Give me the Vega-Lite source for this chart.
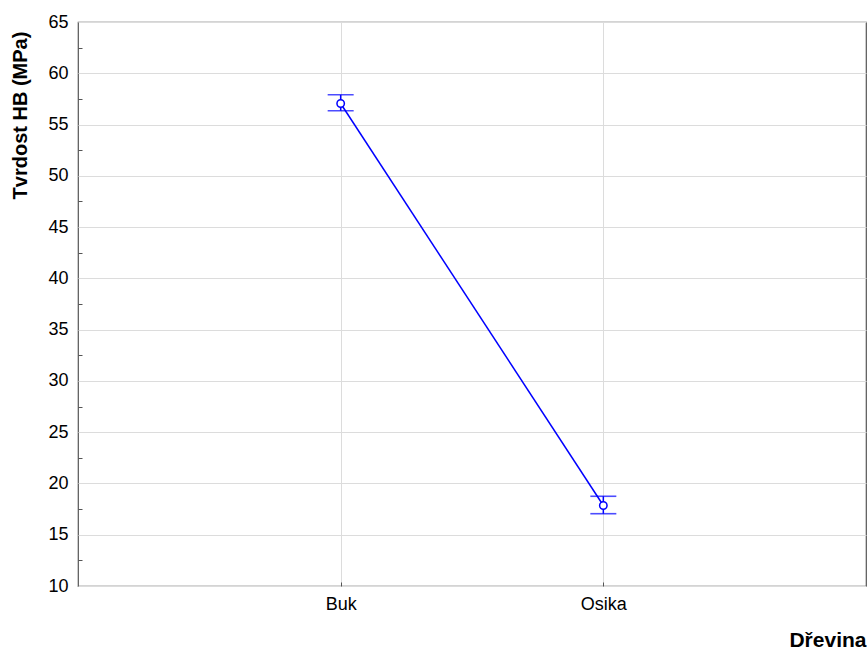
{
  "$schema": "https://vega.github.io/schema/vega-lite/v6.json",
  "width": 788,
  "height": 564,
  "autosize": {"type": "none"},
  "padding": {"left": 78, "top": 22, "right": 1, "bottom": 65},
  "background": "white",
  "config": {
    "font": "Liberation Sans",
    "view": {"stroke": "#555555", "strokeWidth": 1.2},
    "axis": {"gridColor": "#dcdcdc", "gridWidth": 1, "domain": false}
  },
  "data": {
    "values": [
      {"Drevina": "Buk", "prumer": 57.05, "dolni": 56.35, "horni": 57.9},
      {"Drevina": "Osika", "prumer": 17.85, "dolni": 17.05, "horni": 18.75}
    ]
  },
  "encoding": {
    "x": {
      "field": "Drevina",
      "type": "nominal",
      "sort": null,
      "scale": {"type": "point", "padding": 1},
      "axis": {
        "title": "Dřevina",
        "titleFontSize": 21,
        "titleFontWeight": "bold",
        "titleColor": "black",
        "titleAnchor": "end",
        "titleAlign": "right",
        "titleX": 788,
        "titleY": 54,
        "titleBaseline": "middle",
        "labelFontSize": 18,
        "labelColor": "black",
        "labelAngle": 0,
        "labelPadding": 13,
        "tickSize": -4,
        "tickColor": "#555555",
        "grid": true
      }
    }
  },
  "layer": [
    {
      "mark": {"type": "line", "color": "#0000ff", "strokeWidth": 1.5},
      "encoding": {
        "y": {
          "field": "prumer",
          "type": "quantitative",
          "scale": {"domain": [10, 65], "nice": false, "zero": false},
          "axis": {
            "title": "Tvrdost HB (MPa)",
            "titleFontSize": 20,
            "titleFontWeight": "bold",
            "titleColor": "black",
            "titleAngle": 270,
            "titleAlign": "center",
            "titleBaseline": "middle",
            "titleX": -58,
            "titleY": 93,
            "values": [10, 15, 20, 25, 30, 35, 40, 45, 50, 55, 60, 65],
            "labelFontSize": 18,
            "labelColor": "black",
            "labelPadding": 10,
            "ticks": false,
            "grid": true
          }
        }
      }
    },
    {
      "mark": {"type": "rule", "color": "#0000ff", "strokeWidth": 1.5},
      "encoding": {
        "y": {
          "field": "dolni",
          "type": "quantitative",
          "axis": {
            "orient": "left",
            "title": null,
            "labels": false,
            "grid": false,
            "ticks": true,
            "tickSize": -4,
            "tickColor": "#555555",
            "values": [12.5, 17.5, 22.5, 27.5, 32.5, 37.5, 42.5, 47.5, 52.5, 57.5, 62.5]
          }
        },
        "y2": {"field": "horni"}
      }
    },
    {
      "mark": {"type": "tick", "color": "#0000ff", "orient": "horizontal", "size": 26, "thickness": 1.6},
      "encoding": {"y": {"field": "dolni", "type": "quantitative", "axis": null}}
    },
    {
      "mark": {"type": "tick", "color": "#0000ff", "orient": "horizontal", "size": 26, "thickness": 1.6},
      "encoding": {"y": {"field": "horni", "type": "quantitative", "axis": null}}
    },
    {
      "mark": {"type": "point", "shape": "circle", "filled": false, "color": "#0000ff", "size": 55, "strokeWidth": 1.5, "fill": "white", "fillOpacity": 1},
      "encoding": {"y": {"field": "prumer", "type": "quantitative", "axis": null}}
    }
  ],
  "resolve": {"axis": {"y": "independent"}}
}
